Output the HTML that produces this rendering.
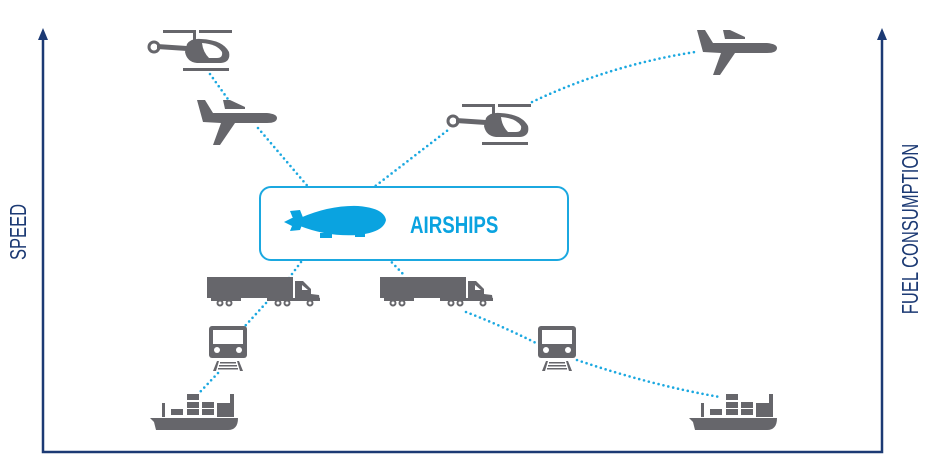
<!DOCTYPE html>
<html><head><meta charset="utf-8"><style>
html,body{margin:0;padding:0;background:#fff;width:930px;height:468px;overflow:hidden}
svg{display:block}
</style></head><body>
<svg width="930" height="468" viewBox="0 0 930 468" xmlns="http://www.w3.org/2000/svg">
<defs>
<g id="heli" fill="#66666b">
  <rect x="16" y="0" width="30" height="3"/><rect x="52" y="0" width="33" height="3"/>
  <rect x="46" y="0" width="3" height="10"/>
  <path d="M40 14 Q44 8 54 9 Q76 10 82 22 Q84 32 74 33 L50 33 Q40 32 38 22 Z"/>
  <path d="M55 13 Q70 14 75 22 Q76 28 70 28 L62 28 Q56 22 55 13 Z" fill="#fff"/>
  <polygon points="10,14 40,16 40,21 10,19"/>
  <circle cx="7" cy="17" r="5" fill="none" stroke="#66666b" stroke-width="3"/>
  <rect x="36" y="38" width="46" height="3"/>
</g>
<g id="plane" fill="#66666b">
  <path d="M2 0 L10 0 L18 13 L72 13 Q82 14 82 18 Q82 23 72 23 L40 23 L25 45 L18 45 L26 23 L8 22 Z"/>
  <polygon points="28,0 35,0 50,7 50,9 30,9"/>
</g>
<g id="truck" fill="#66666b">
  <rect x="0" y="0" width="86" height="21"/>
  <rect x="4" y="21" width="30" height="3"/><rect x="60" y="21" width="53" height="3"/>
  <path d="M88 4 L96 4 L104 12 L104 17 L112 18 L113 24 L88 24 Z"/>
  <polygon points="95,8 101,13 95,13" fill="#fff"/>
  <g fill="#fff" stroke="#66666b" stroke-width="2">
    <circle cx="13" cy="26" r="2.5"/><circle cx="22" cy="26" r="2.5"/>
    <circle cx="71" cy="26" r="2.5"/><circle cx="80" cy="26" r="2.5"/><circle cx="103" cy="26" r="2.5"/>
  </g>
</g>
<g id="train" fill="#66666b">
  <rect x="0" y="0" width="38" height="32" rx="3"/>
  <rect x="4" y="4" width="30" height="14" fill="#fff"/>
  <circle cx="8" cy="24" r="3" fill="#fff"/><circle cx="30" cy="24" r="3" fill="#fff"/>
  <polygon points="4,45 8,35 10,35 7,45"/><polygon points="34,45 30,35 28,35 31,45"/>
  <rect x="11" y="36" width="16" height="1.5"/><rect x="10" y="39" width="18" height="1.5"/><rect x="9" y="42" width="20" height="1.5"/>
</g>
<g id="ship" fill="#66666b">
  <rect x="12" y="10" width="3" height="14"/>
  <rect x="21" y="16" width="12" height="6"/>
  <rect x="37" y="1" width="12" height="6"/><rect x="37" y="9" width="12" height="6"/><rect x="37" y="16" width="12" height="6"/>
  <rect x="52" y="9" width="12" height="6"/><rect x="52" y="16" width="12" height="6"/>
  <path d="M67 10 L80 10 L80 1 L84 1 L84 24 L67 24 Z"/>
  <path d="M0 25 L88 25 Q88 37 78 37 L6 37 L4 29 Z"/>
</g>
</defs>

<g stroke="#1c3a74" stroke-width="2.5" fill="none">
  <polyline points="43,38 43,452 882,452 882,38"/>
</g>
<polygon points="43,28 38,40 48,40" fill="#1c3a74"/>
<polygon points="882,28 877,40 887,40" fill="#1c3a74"/>
<text transform="translate(26,232) rotate(-90) scale(0.72,1)" text-anchor="middle" font-family="Liberation Sans, sans-serif" font-size="23" fill="#1c3a74">SPEED</text>
<text transform="translate(918,229) rotate(-90) scale(0.72,1)" text-anchor="middle" font-family="Liberation Sans, sans-serif" font-size="23" fill="#1c3a74">FUEL CONSUMPTION</text>

<g stroke="#1ba8e0" stroke-width="2.6" fill="none" stroke-dasharray="0 5" stroke-linecap="round">
  <path d="M210 74 L230 102"/>
  <path d="M258 128 L322 203"/>
  <path d="M352 204 L448 130"/>
  <path d="M532 102 Q610 65 695 52"/>
  <path d="M310 250 L286 282"/>
  <path d="M266 303 L245 326"/>
  <path d="M218 373 L200 392"/>
  <path d="M378 248 L405 276"/>
  <path d="M466 312 Q500 325 536 343"/>
  <path d="M577 360 Q650 385 720 397"/>
</g>

<rect x="260" y="187" width="308" height="73" rx="11" fill="#fff" stroke="#1ba8e0" stroke-width="2"/>
<g fill="#0aa3e0">
  <path d="M300 218 Q330 205 358 206 Q384 208 386 220 Q384 232 358 235 Q328 237 300 226 L292 226 L284 222 L292 218 Z"/>
  <path d="M290 211 L300 210 L304 220 L300 230 L290 231 L294 221 Z"/>
  <rect x="320" y="233" width="12" height="5"/><rect x="355" y="233" width="10" height="4"/>
</g>
<text transform="translate(410,233) scale(0.78,1)" font-family="Liberation Sans, sans-serif" font-weight="bold" font-size="24" fill="#0aa3e0">AIRSHIPS</text>

<use href="#heli" x="147" y="30"/>
<use href="#plane" x="195" y="100"/>
<use href="#heli" x="446" y="104"/>
<use href="#plane" x="695" y="30"/>
<use href="#truck" x="207" y="277"/>
<use href="#truck" x="380" y="277"/>
<use href="#train" x="209" y="326"/>
<use href="#train" x="538" y="326"/>
<use href="#ship" x="150" y="393"/>
<use href="#ship" x="689" y="393"/>
</svg>
</body></html>
